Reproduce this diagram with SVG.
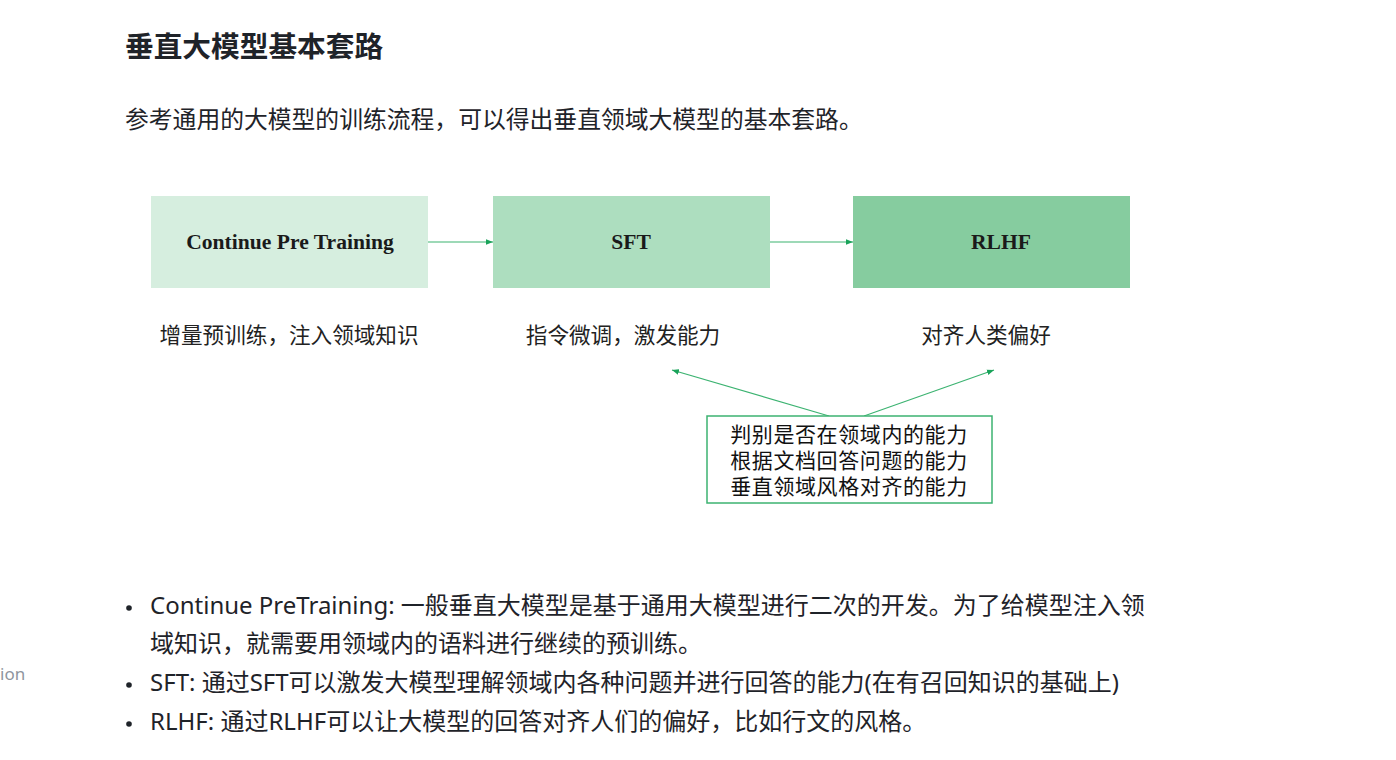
<svg xmlns="http://www.w3.org/2000/svg" width="1396" height="760" viewBox="0 0 1396 760">
<defs>
<style>
.cjk{font-family:"Noto Sans","Noto Sans CJK SC",sans-serif;fill:#1f2329}
.title{font-size:28.7px;font-weight:700}
.intro{font-size:23.8px}
.lab{font-size:21.6px;fill:#222;text-anchor:middle}
.box{stroke:none}
.bt{font-family:"Liberation Serif","Noto Sans CJK SC",serif;font-weight:700;font-size:21.6px;fill:#1a1a1a;text-anchor:middle}
.conn{stroke:#3cb371;stroke-width:1.2;fill:none;marker-end:url(#ah)}
.note{font-size:21px;letter-spacing:0.6px;fill:#111;text-anchor:middle}
.bul{font-size:24px}
</style>
<marker id="ah" viewBox="0 0 10 10" refX="10" refY="5" markerWidth="7" markerHeight="7" markerUnits="userSpaceOnUse" orient="auto"><path d="M0,1 L10,5 L0,9 z" fill="#1aa35a"/></marker>
</defs>
<rect width="1396" height="760" fill="#fff"/>
<text class="cjk title" x="125" y="57">垂直大模型基本套路</text>
<text class="cjk intro" x="125" y="128">参考通用的大模型的训练流程，可以得出垂直领域大模型的基本套路。</text>

<g id="connectors">
<line class="conn" x1="428" y1="242" x2="493" y2="242"/>
<line class="conn" x1="770" y1="242" x2="853" y2="242"/>
<line class="conn" x1="829" y1="416" x2="672" y2="370"/>
<line class="conn" x1="864" y1="416" x2="994" y2="370"/>
</g>

<g id="node-cpt">
<rect class="box" x="151" y="196" width="277" height="92" fill="#d6eedf"/>
<text class="bt" x="290" y="249">Continue Pre Training</text>
<text class="cjk lab" x="289" y="343">增量预训练，注入领域知识</text>
</g>
<g id="node-sft">
<rect class="box" x="493" y="196" width="277" height="92" fill="#addebf"/>
<text class="bt" x="631" y="249">SFT</text>
<text class="cjk lab" x="623" y="343">指令微调，激发能力</text>
</g>
<g id="node-rlhf">
<rect class="box" x="853" y="196" width="277" height="92" fill="#86cc9f"/>
<text class="bt" x="1001" y="249">RLHF</text>
<text class="cjk lab" x="986" y="343">对齐人类偏好</text>
</g>
<g id="node-abilities">
<rect x="707" y="416" width="285" height="87" fill="#fff" stroke="#3cb371" stroke-width="1.5"/>
<text class="cjk note" x="849" y="442">判别是否在领域内的能力</text>
<text class="cjk note" x="849" y="468">根据文档回答问题的能力</text>
<text class="cjk note" x="849" y="494">垂直领域风格对齐的能力</text>
</g>

<g id="bullets">
<circle cx="129" cy="608" r="2.8" fill="#1f2329"/>
<circle cx="129" cy="685" r="2.8" fill="#1f2329"/>
<circle cx="129" cy="724" r="2.8" fill="#1f2329"/>
<text class="cjk bul" x="150" y="614">Continue PreTraining: 一般垂直大模型是基于通用大模型进行二次的开发。为了给模型注入领</text>
<text class="cjk bul" x="150" y="652">域知识，就需要用领域内的语料进行继续的预训练。</text>
<text class="cjk bul" x="150" y="691">SFT: 通过SFT可以激发大模型理解领域内各种问题并进行回答的能力(在有召回知识的基础上)</text>
<text class="cjk bul" x="150" y="730">RLHF: 通过RLHF可以让大模型的回答对齐人们的偏好，比如行文的风格。</text>
</g>
<text x="0" y="680" font-family="Noto Sans, sans-serif" font-size="17" fill="#8f959e">ion</text>
</svg>
